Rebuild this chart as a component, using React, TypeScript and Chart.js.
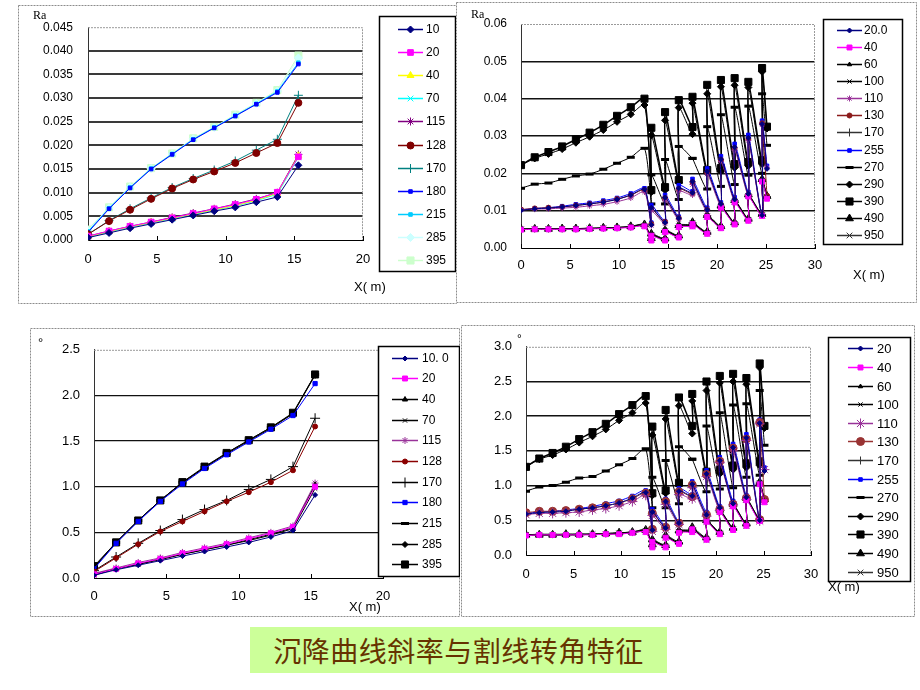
import React, { useEffect, useRef } from 'react';
import { Chart, registerables } from 'chart.js';
import { drawPoint } from 'chart.js/helpers';

Chart.register(...registerables);

// ---------------- Panel 1 (top-left): Ra vs X(m) ----------------
const p1X = [0, 1.53, 3.06, 4.59, 6.12, 7.65, 9.18, 10.71, 12.24, 13.77, 15.3];
const p1Labels = ['10', '20', '40', '70', '115', '128', '170', '180', '215', '285', '395'];
const p1_10 = [0.0005, 0.0015, 0.0025, 0.0034, 0.0043, 0.0052, 0.0061, 0.0069, 0.0080, 0.0091, 0.0158];
const p1_20 = [0.0008, 0.0019, 0.0029, 0.0038, 0.0047, 0.0056, 0.0066, 0.0075, 0.0086, 0.0101, 0.0176];
const p1_40 = [0.0007, 0.0018, 0.0028, 0.0037, 0.0046, 0.0055, 0.0064, 0.0073, 0.0084, 0.0099, 0.0178];
const p1_70 = [0.0006, 0.0017, 0.0027, 0.0036, 0.0045, 0.0054, 0.0063, 0.0072, 0.0083, 0.0097, 0.0175];
const p1_115 = [0.0008, 0.0019, 0.0029, 0.0038, 0.0048, 0.0057, 0.0066, 0.0076, 0.0087, 0.0100, 0.0181];
const p1_128 = [0.0012, 0.0040, 0.0064, 0.0087, 0.0109, 0.0128, 0.0145, 0.0163, 0.0184, 0.0205, 0.0290];
const p1_170 = [0.0012, 0.0041, 0.0066, 0.0089, 0.0111, 0.0130, 0.0148, 0.0167, 0.0190, 0.0213, 0.0306];
const p1_180 = [0.0016, 0.0066, 0.0110, 0.0150, 0.0181, 0.0212, 0.0237, 0.0262, 0.0287, 0.0312, 0.0372];
const p1_215 = [0.0018, 0.0067, 0.0111, 0.0151, 0.0182, 0.0213, 0.0238, 0.0263, 0.0288, 0.0314, 0.0375];
const p1_285 = [0.0020, 0.0068, 0.0112, 0.0151, 0.0182, 0.0214, 0.0238, 0.0264, 0.0289, 0.0315, 0.0385];
const p1_395 = [0.0022, 0.0069, 0.0113, 0.0152, 0.0183, 0.0215, 0.0239, 0.0265, 0.0290, 0.0317, 0.0390];
const p1YTicks = ['0.000', '0.005', '0.010', '0.015', '0.020', '0.025', '0.030', '0.035', '0.040', '0.045'];

// ---------------- Panel 2 (top-right): Ra vs X(m) ----------------
const p2X = [0, 1.4, 2.8, 4.2, 5.6, 7.0, 8.4, 9.8, 11.2, 12.6, 13.3, 13.3, 14.7, 14.7, 16.1, 16.1, 17.5, 17.5, 19.0, 19.0, 20.4, 20.4, 21.8, 21.8, 23.2, 23.2, 24.6, 24.6, 25.1];
const p2Labels = ['20.0', '40', '60', '100', '110', '130', '170', '255', '270', '290', '390', '490', '950'];
const p2_20 = [0.0101, 0.0105, 0.0107, 0.0110, 0.0114, 0.0118, 0.0123, 0.0130, 0.0142, 0.0157, 0.0062, 0.0108, 0.0068, 0.0135, 0.0080, 0.0160, 0.0148, 0.0178, 0.0102, 0.0205, 0.0118, 0.0238, 0.0130, 0.0270, 0.0145, 0.0295, 0.0088, 0.0332, 0.0212];
const p2_40 = [0.0049, 0.0050, 0.0050, 0.0050, 0.0050, 0.0051, 0.0052, 0.0053, 0.0055, 0.0058, 0.0020, 0.0033, 0.0020, 0.0043, 0.0028, 0.0056, 0.0058, 0.0064, 0.0038, 0.0083, 0.0053, 0.0108, 0.0063, 0.0122, 0.0073, 0.0138, 0.0086, 0.0178, 0.0132];
const p2_60 = [0.0050, 0.0051, 0.0051, 0.0051, 0.0051, 0.0052, 0.0053, 0.0054, 0.0056, 0.0060, 0.0022, 0.0035, 0.0022, 0.0045, 0.0030, 0.0058, 0.0060, 0.0066, 0.0040, 0.0085, 0.0055, 0.0110, 0.0065, 0.0125, 0.0075, 0.0140, 0.0088, 0.0180, 0.0135];
const p2_100 = [0.0050, 0.0051, 0.0051, 0.0051, 0.0052, 0.0052, 0.0053, 0.0055, 0.0057, 0.0061, 0.0024, 0.0036, 0.0023, 0.0046, 0.0031, 0.0059, 0.0061, 0.0067, 0.0041, 0.0086, 0.0056, 0.0111, 0.0066, 0.0126, 0.0076, 0.0141, 0.0089, 0.0182, 0.0137];
const p2_110 = [0.0102, 0.0104, 0.0105, 0.0107, 0.0109, 0.0113, 0.0117, 0.0124, 0.0134, 0.0150, 0.0060, 0.0100, 0.0065, 0.0128, 0.0076, 0.0152, 0.0142, 0.0170, 0.0098, 0.0198, 0.0112, 0.0232, 0.0125, 0.0262, 0.0140, 0.0288, 0.0086, 0.0330, 0.0215];
const p2_130 = [0.0103, 0.0106, 0.0108, 0.0110, 0.0114, 0.0118, 0.0123, 0.0131, 0.0141, 0.0155, 0.0064, 0.0105, 0.0070, 0.0134, 0.0080, 0.0158, 0.0146, 0.0176, 0.0102, 0.0203, 0.0116, 0.0236, 0.0128, 0.0268, 0.0143, 0.0292, 0.0089, 0.0334, 0.0140];
const p2_170 = [0.0051, 0.0052, 0.0052, 0.0052, 0.0052, 0.0053, 0.0054, 0.0055, 0.0057, 0.0062, 0.0025, 0.0037, 0.0024, 0.0047, 0.0032, 0.0060, 0.0062, 0.0068, 0.0042, 0.0087, 0.0057, 0.0112, 0.0067, 0.0127, 0.0077, 0.0142, 0.0090, 0.0183, 0.0138];
const p2_255 = [0.0102, 0.0106, 0.0108, 0.0112, 0.0117, 0.0121, 0.0127, 0.0134, 0.0146, 0.0160, 0.0068, 0.0115, 0.0072, 0.0142, 0.0084, 0.0168, 0.0152, 0.0185, 0.0108, 0.0213, 0.0122, 0.0246, 0.0136, 0.0279, 0.0150, 0.0303, 0.0090, 0.0341, 0.0220];
const p2_270 = [0.0160, 0.0171, 0.0174, 0.0184, 0.0193, 0.0198, 0.0211, 0.0227, 0.0243, 0.0267, 0.0118, 0.0196, 0.0118, 0.0237, 0.0130, 0.0272, 0.0240, 0.0240, 0.0158, 0.0325, 0.0165, 0.0357, 0.0170, 0.0377, 0.0195, 0.0380, 0.0200, 0.0413, 0.0275];
const p2_290 = [0.0222, 0.0240, 0.0252, 0.0265, 0.0282, 0.0298, 0.0316, 0.0338, 0.0358, 0.0383, 0.0150, 0.0302, 0.0155, 0.0342, 0.0175, 0.0376, 0.0305, 0.0388, 0.0200, 0.0413, 0.0205, 0.0432, 0.0215, 0.0436, 0.0220, 0.0430, 0.0225, 0.0472, 0.0320];
const p2_390 = [0.0222, 0.0243, 0.0257, 0.0272, 0.0291, 0.0309, 0.0330, 0.0354, 0.0377, 0.0400, 0.0155, 0.0322, 0.0163, 0.0364, 0.0182, 0.0396, 0.0324, 0.0405, 0.0209, 0.0437, 0.0214, 0.0450, 0.0225, 0.0455, 0.0230, 0.0445, 0.0235, 0.0482, 0.0325];
const p2_490 = [0.0051, 0.0051, 0.0051, 0.0052, 0.0052, 0.0053, 0.0054, 0.0055, 0.0058, 0.0063, 0.0026, 0.0038, 0.0025, 0.0048, 0.0033, 0.0061, 0.0063, 0.0069, 0.0043, 0.0088, 0.0058, 0.0113, 0.0068, 0.0128, 0.0078, 0.0143, 0.0091, 0.0184, 0.0139];
const p2_950 = [0.0050, 0.0050, 0.0051, 0.0051, 0.0051, 0.0052, 0.0053, 0.0054, 0.0056, 0.0059, 0.0023, 0.0034, 0.0021, 0.0044, 0.0029, 0.0057, 0.0059, 0.0065, 0.0039, 0.0084, 0.0054, 0.0109, 0.0064, 0.0124, 0.0074, 0.0139, 0.0087, 0.0179, 0.0134];
const p2YTicks = ['0.00', '0.01', '0.02', '0.03', '0.04', '0.05', '0.06'];

// ---------------- Panel 3 (bottom-left): angle (°) vs X(m) ----------------
const p3X = [0, 1.53, 3.06, 4.59, 6.12, 7.65, 9.18, 10.71, 12.24, 13.77, 15.3];
const p3Labels = ['10. 0', '20', '40', '70', '115', '128', '170', '180', '215', '285', '395'];
const p3_10 = [0.03, 0.09, 0.14, 0.19, 0.24, 0.29, 0.34, 0.39, 0.45, 0.52, 0.91];
const p3_20 = [0.04, 0.10, 0.16, 0.21, 0.27, 0.32, 0.37, 0.43, 0.49, 0.56, 1.00];
const p3_40 = [0.04, 0.10, 0.15, 0.21, 0.26, 0.31, 0.36, 0.42, 0.48, 0.55, 1.02];
const p3_70 = [0.03, 0.10, 0.15, 0.20, 0.26, 0.31, 0.36, 0.41, 0.47, 0.54, 0.98];
const p3_115 = [0.05, 0.11, 0.17, 0.22, 0.28, 0.33, 0.38, 0.44, 0.50, 0.57, 1.04];
const p3_128 = [0.07, 0.22, 0.37, 0.51, 0.62, 0.73, 0.84, 0.94, 1.05, 1.18, 1.66];
const p3_170 = [0.08, 0.23, 0.38, 0.52, 0.64, 0.75, 0.85, 0.97, 1.08, 1.22, 1.75];
const p3_180 = [0.10, 0.38, 0.62, 0.84, 1.03, 1.20, 1.35, 1.49, 1.63, 1.78, 2.13];
const p3_215 = [0.12, 0.39, 0.63, 0.85, 1.05, 1.21, 1.37, 1.51, 1.65, 1.80, 2.23];
const p3_285 = [0.11, 0.39, 0.63, 0.85, 1.04, 1.21, 1.36, 1.50, 1.64, 1.80, 2.22];
const p3_395 = [0.13, 0.39, 0.63, 0.85, 1.05, 1.22, 1.37, 1.51, 1.65, 1.81, 2.23];
const p3YTicks = ['0.0', '0.5', '1.0', '1.5', '2.0', '2.5'];

// ---------------- Panel 4 (bottom-right): angle (°) vs X(m) ----------------
const p4X = [0, 1.4, 2.8, 4.2, 5.6, 7.0, 8.4, 9.8, 11.2, 12.6, 13.3, 13.3, 14.7, 14.7, 16.1, 16.1, 17.5, 17.5, 19.0, 19.0, 20.4, 20.4, 21.8, 21.8, 23.2, 23.2, 24.6, 24.6, 25.1];
const p4Labels = ['20', '40', '60', '100', '110', '130', '170', '255', '270', '290', '390', '490', '950'];
const p4_20 = [0.59, 0.61, 0.62, 0.63, 0.66, 0.68, 0.71, 0.75, 0.82, 0.90, 0.36, 0.62, 0.39, 0.77, 0.46, 0.92, 0.85, 1.02, 0.58, 1.17, 0.68, 1.36, 0.74, 1.55, 0.83, 1.69, 0.50, 1.90, 1.21];
const p4_40 = [0.28, 0.29, 0.29, 0.29, 0.29, 0.29, 0.30, 0.30, 0.32, 0.33, 0.11, 0.19, 0.11, 0.25, 0.16, 0.32, 0.33, 0.37, 0.22, 0.48, 0.30, 0.62, 0.36, 0.70, 0.42, 0.79, 0.49, 1.02, 0.76];
const p4_60 = [0.29, 0.29, 0.29, 0.29, 0.29, 0.30, 0.30, 0.31, 0.32, 0.34, 0.13, 0.20, 0.13, 0.26, 0.17, 0.33, 0.34, 0.38, 0.23, 0.49, 0.32, 0.63, 0.37, 0.72, 0.43, 0.80, 0.50, 1.03, 0.77];
const p4_100 = [0.29, 0.29, 0.29, 0.29, 0.30, 0.30, 0.30, 0.32, 0.33, 0.35, 0.14, 0.21, 0.13, 0.26, 0.18, 0.34, 0.35, 0.38, 0.23, 0.49, 0.32, 0.64, 0.38, 0.72, 0.44, 0.81, 0.51, 1.04, 0.78];
const p4_110 = [0.58, 0.60, 0.60, 0.61, 0.62, 0.65, 0.67, 0.71, 0.77, 0.86, 0.34, 0.57, 0.37, 0.73, 0.44, 0.87, 0.81, 0.97, 0.56, 1.13, 0.64, 1.33, 0.72, 1.50, 0.80, 1.65, 0.49, 1.89, 1.23];
const p4_130 = [0.61, 0.63, 0.63, 0.64, 0.66, 0.68, 0.71, 0.75, 0.81, 0.89, 0.37, 0.60, 0.40, 0.77, 0.46, 0.91, 0.84, 1.01, 0.58, 1.16, 0.66, 1.35, 0.73, 1.54, 0.82, 1.67, 0.51, 1.91, 0.80];
const p4_170 = [0.29, 0.30, 0.30, 0.30, 0.30, 0.30, 0.31, 0.32, 0.33, 0.36, 0.14, 0.21, 0.14, 0.27, 0.18, 0.34, 0.36, 0.39, 0.24, 0.50, 0.33, 0.64, 0.38, 0.73, 0.44, 0.81, 0.52, 1.05, 0.79];
const p4_255 = [0.60, 0.62, 0.63, 0.65, 0.67, 0.70, 0.74, 0.78, 0.85, 0.93, 0.39, 0.66, 0.41, 0.81, 0.48, 0.96, 0.87, 1.06, 0.62, 1.22, 0.70, 1.41, 0.78, 1.60, 0.86, 1.74, 0.52, 1.95, 1.26];
const p4_270 = [0.92, 0.98, 1.00, 1.05, 1.11, 1.13, 1.21, 1.30, 1.39, 1.53, 0.68, 1.12, 0.68, 1.36, 0.74, 1.56, 1.38, 1.38, 0.91, 1.86, 0.95, 2.05, 0.97, 2.16, 1.12, 2.18, 1.15, 2.37, 1.58];
const p4_290 = [1.27, 1.38, 1.44, 1.52, 1.62, 1.71, 1.81, 1.94, 2.05, 2.19, 0.86, 1.73, 0.89, 1.96, 1.00, 2.15, 1.75, 2.22, 1.15, 2.37, 1.17, 2.48, 1.23, 2.50, 1.26, 2.46, 1.29, 2.70, 1.83];
const p4_390 = [1.27, 1.39, 1.47, 1.56, 1.67, 1.77, 1.89, 2.03, 2.16, 2.29, 0.89, 1.85, 0.93, 2.09, 1.04, 2.27, 1.86, 2.32, 1.20, 2.50, 1.23, 2.58, 1.29, 2.61, 1.32, 2.55, 1.35, 2.76, 1.86];
const p4_490 = [0.29, 0.29, 0.29, 0.30, 0.30, 0.30, 0.31, 0.32, 0.33, 0.36, 0.15, 0.22, 0.14, 0.28, 0.19, 0.35, 0.36, 0.40, 0.25, 0.50, 0.33, 0.65, 0.39, 0.73, 0.45, 0.82, 0.52, 1.05, 0.80];
const p4_950 = [0.29, 0.29, 0.29, 0.29, 0.29, 0.30, 0.30, 0.31, 0.32, 0.34, 0.13, 0.19, 0.12, 0.25, 0.17, 0.33, 0.34, 0.37, 0.22, 0.48, 0.31, 0.62, 0.37, 0.71, 0.42, 0.80, 0.50, 1.03, 0.77];
const p4YTicks = ['0.0', '0.5', '1.0', '1.5', '2.0', '2.5', '3.0'];

const xTicks20 = ['0', '5', '10', '15', '20'];
const xTicks30 = ['0', '5', '10', '15', '20', '25', '30'];
const titleText = '沉降曲线斜率与割线转角特征';

// ---------------- styles (separate from data) ----------------
type Sty = { c: string; p: string; r: number; bw?: number; lw?: number };
const p1Styles: Sty[] = [
  { c: '#000080', p: 'rectRot', r: 3.5 },
  { c: '#FF00FF', p: 'rect', r: 4 },
  { c: '#FFFF00', p: 'triangle', r: 4 },
  { c: '#00FFFF', p: 'crossRot', r: 4 },
  { c: '#800080', p: 'star', r: 4 },
  { c: '#800000', p: 'circle', r: 3.5 },
  { c: '#008080', p: 'cross', r: 4.5 },
  { c: '#0000FF', p: 'rect', r: 2.5 },
  { c: '#00CCFF', p: 'rect', r: 2.5 },
  { c: '#CCFFFF', p: 'rectRot', r: 4 },
  { c: '#CCFFCC', p: 'rect', r: 5 },
];
const p3Styles: Sty[] = [
  { c: '#000080', p: 'rectRot', r: 2.5 },
  { c: '#FF00FF', p: 'rect', r: 3.5 },
  { c: '#000000', p: 'triangle', r: 3 },
  { c: '#000000', p: 'crossRot', r: 3 },
  { c: '#993399', p: 'star', r: 3.5 },
  { c: '#8B0000', p: 'circle', r: 2.5 },
  { c: '#000000', p: 'cross', r: 5 },
  { c: '#0000FF', p: 'rect', r: 3 },
  { c: '#000000', p: 'line', r: 4, bw: 3 },
  { c: '#000000', p: 'rectRot', r: 3 },
  { c: '#000000', p: 'rect', r: 5 },
];
const p2Styles: Sty[] = [
  { c: '#000080', p: 'rectRot', r: 2.5 },
  { c: '#FF00FF', p: 'rect', r: 3.5 },
  { c: '#000000', p: 'triangle', r: 2.5 },
  { c: '#000000', p: 'crossRot', r: 3 },
  { c: '#993399', p: 'star', r: 3 },
  { c: '#8B1A1A', p: 'circle', r: 2.5 },
  { c: '#333333', p: 'cross', r: 4 },
  { c: '#0000FF', p: 'rect', r: 2.5 },
  { c: '#000000', p: 'line', r: 4, bw: 3 },
  { c: '#000000', p: 'rectRot', r: 3.5 },
  { c: '#000000', p: 'rect', r: 5, lw: 1.5 },
  { c: '#000000', p: 'triangle', r: 4.5 },
  { c: '#333333', p: 'crossRot', r: 4 },
];
const p4Styles: Sty[] = [
  { c: '#000080', p: 'rectRot', r: 2.5 },
  { c: '#FF00FF', p: 'rect', r: 3.5 },
  { c: '#000000', p: 'triangle', r: 2.5 },
  { c: '#000000', p: 'crossRot', r: 3 },
  { c: '#993399', p: 'star', r: 5 },
  { c: '#993333', p: 'circle', r: 4 },
  { c: '#333333', p: 'cross', r: 4 },
  { c: '#0000FF', p: 'rect', r: 2.5 },
  { c: '#000000', p: 'line', r: 4, bw: 3 },
  { c: '#000000', p: 'rectRot', r: 3.5 },
  { c: '#000000', p: 'rect', r: 5, lw: 1.5 },
  { c: '#000000', p: 'triangle', r: 4.5 },
  { c: '#333333', p: 'crossRot', r: 4 },
];

type PanelCfg = {
  left: number; top: number; w: number; h: number;
  area: { l: number; t: number; r: number; b: number };
  xMax: number; xTickLabels: string[]; yMax: number; yStep: number; yTickLabels: string[];
  xs: number[]; labels: string[]; values: number[][]; styles: Sty[];
  tension: number; yPad: number; xPad: number; yFont: number; xFont: number;
  gridColor: string; gridWidth: number;
  texts: { t: string; x: number; y: number; font: string }[];
  legend: { x: number; y: number; w: number; h: number; lx1: number; lx2: number; tx: number; y0: number; step: number; font: number; bw: number };
};

const SANS = '"Liberation Sans", Arial, sans-serif';

const panels: PanelCfg[] = [
  {
    left: 18, top: 5, w: 439, h: 299,
    area: { l: 70, t: 20, r: 345, b: 235 },
    xMax: 20, xTickLabels: xTicks20, yMax: 0.045, yStep: 0.005, yTickLabels: p1YTicks,
    xs: p1X, labels: p1Labels,
    values: [p1_10, p1_20, p1_40, p1_70, p1_115, p1_128, p1_170, p1_180, p1_215, p1_285, p1_395],
    styles: p1Styles, tension: 0, yPad: 15, xPad: 12, yFont: 12, xFont: 13,
    gridColor: '#3a3a3a', gridWidth: 2,
    texts: [
      { t: 'Ra', x: 15, y: 11, font: '12px "Liberation Serif", serif' },
      { t: 'X( m)', x: 336, y: 282, font: '13px ' + SANS },
    ],
    legend: { x: 361, y: 11, w: 77, h: 256, lx1: 380, lx2: 405, tx: 408, y0: 24, step: 23.1, font: 12, bw: 1.5 },
  },
  {
    left: 456, top: 2, w: 461, h: 301,
    area: { l: 65, t: 22, r: 359, b: 246 },
    xMax: 30, xTickLabels: xTicks30, yMax: 0.06, yStep: 0.01, yTickLabels: p2YTicks,
    xs: p2X, labels: p2Labels,
    values: [p2_20, p2_40, p2_60, p2_100, p2_110, p2_130, p2_170, p2_255, p2_270, p2_290, p2_390, p2_490, p2_950],
    styles: p2Styles, tension: 0.25, yPad: 14, xPad: 10, yFont: 12, xFont: 13,
    gridColor: '#111111', gridWidth: 1.5,
    texts: [
      { t: 'Ra', x: 15, y: 13, font: '12px "Liberation Serif", serif' },
      { t: 'X( m)', x: 397, y: 273, font: '13px ' + SANS },
    ],
    legend: { x: 367, y: 17, w: 80, h: 226, lx1: 381, lx2: 406, tx: 408, y0: 28, step: 17.08, font: 12, bw: 1.5 },
  },
  {
    left: 30, top: 328, w: 430, h: 289,
    area: { l: 64, t: 19, r: 353, b: 250 },
    xMax: 20, xTickLabels: xTicks20, yMax: 2.5, yStep: 0.5, yTickLabels: p3YTicks,
    xs: p3X, labels: p3Labels,
    values: [p3_10, p3_20, p3_40, p3_70, p3_115, p3_128, p3_170, p3_180, p3_215, p3_285, p3_395],
    styles: p3Styles, tension: 0, yPad: 14, xPad: 11, yFont: 13, xFont: 13,
    gridColor: '#111111', gridWidth: 1.2,
    texts: [
      { t: '°', x: 8, y: 15, font: '13px ' + SANS },
      { t: 'X( m)', x: 319, y: 279, font: '13px ' + SANS },
    ],
    legend: { x: 348, y: 18, w: 82, h: 231, lx1: 362, lx2: 388, tx: 392, y0: 29.7, step: 20.67, font: 12, bw: 1.5 },
  },
  {
    left: 461, top: 325, w: 454, h: 292,
    area: { l: 65, t: 20, r: 350, b: 230 },
    xMax: 30, xTickLabels: xTicks30, yMax: 3.0, yStep: 0.5, yTickLabels: p4YTicks,
    xs: p4X, labels: p4Labels,
    values: [p4_20, p4_40, p4_60, p4_100, p4_110, p4_130, p4_170, p4_255, p4_270, p4_290, p4_390, p4_490, p4_950],
    styles: p4Styles, tension: 0.25, yPad: 14, xPad: 12, yFont: 13, xFont: 13,
    gridColor: '#111111', gridWidth: 1.5,
    texts: [
      { t: '°', x: 56, y: 15, font: '12px ' + SANS },
      { t: 'X( m)', x: 367, y: 262, font: '13px ' + SANS },
    ],
    legend: { x: 367, y: 12, w: 83, h: 245, lx1: 387, lx2: 412, tx: 416, y0: 23.3, step: 18.6, font: 13, bw: 1.5 },
  },
];

function buildConfig(cfg: PanelCfg): any {
  const datasets = cfg.values.map((vals, i) => {
    const s = cfg.styles[i];
    return {
      label: cfg.labels[i],
      data: vals.map((v, j) => ({ x: cfg.xs[j], y: v })),
      borderColor: s.c,
      backgroundColor: s.c,
      pointBackgroundColor: s.c,
      pointBorderColor: s.c,
      pointStyle: s.p,
      pointRadius: s.r,
      pointBorderWidth: s.bw ?? 1,
      borderWidth: s.lw ?? 1,
      tension: cfg.tension,
      fill: false,
    };
  });

  const panelPlugin = {
    id: 'panelDeco',
    beforeDraw(chart: any) {
      const ctx = chart.ctx;
      ctx.save();
      ctx.fillStyle = '#ffffff';
      ctx.fillRect(0, 0, chart.width, chart.height);
      ctx.strokeStyle = '#8c8c8c';
      ctx.lineWidth = 1;
      ctx.setLineDash([2, 1]);
      ctx.strokeRect(0.5, 0.5, chart.width - 1, chart.height - 1);
      ctx.restore();
    },
    beforeDatasetsDraw(chart: any) {
      const ctx = chart.ctx;
      const a = chart.chartArea;
      ctx.save();
      ctx.strokeStyle = '#9a9a9a';
      ctx.lineWidth = 1;
      ctx.setLineDash([2, 1]);
      ctx.beginPath();
      ctx.moveTo(a.left, a.top + 0.5);
      ctx.lineTo(a.right - 0.5, a.top + 0.5);
      ctx.lineTo(a.right - 0.5, a.bottom);
      ctx.stroke();
      ctx.setLineDash([]);
      // inner tick marks on the x axis
      const xs = chart.scales.x;
      ctx.strokeStyle = '#000';
      xs.ticks.forEach((t: any) => {
        const px = Math.round(xs.getPixelForValue(t.value)) + 0.5;
        ctx.beginPath();
        ctx.moveTo(px, a.bottom);
        ctx.lineTo(px, a.bottom - 4);
        ctx.stroke();
      });
      ctx.restore();
    },
    afterDraw(chart: any) {
      const ctx = chart.ctx;
      ctx.save();
      // axis titles
      ctx.fillStyle = '#000';
      ctx.textBaseline = 'middle';
      ctx.textAlign = 'left';
      cfg.texts.forEach((t) => {
        ctx.font = t.font;
        ctx.fillText(t.t, t.x, t.y);
      });
      // legend
      const lg = cfg.legend;
      ctx.fillStyle = '#ffffff';
      ctx.fillRect(lg.x, lg.y, lg.w, lg.h);
      ctx.strokeStyle = '#000';
      ctx.lineWidth = lg.bw;
      ctx.strokeRect(lg.x + 0.5, lg.y + 0.5, lg.w - 1, lg.h - 1);
      chart.data.datasets.forEach((ds: any, i: number) => {
        const y = Math.round(lg.y0 + i * lg.step) + 0.5;
        ctx.strokeStyle = ds.borderColor;
        ctx.lineWidth = 1.5;
        ctx.beginPath();
        ctx.moveTo(lg.lx1, y);
        ctx.lineTo(lg.lx2, y);
        ctx.stroke();
        ctx.fillStyle = ds.pointBackgroundColor;
        ctx.strokeStyle = ds.pointBorderColor;
        ctx.lineWidth = ds.pointBorderWidth;
        drawPoint(ctx, { pointStyle: ds.pointStyle, radius: ds.pointRadius, rotation: 0, borderWidth: ds.pointBorderWidth }, (lg.lx1 + lg.lx2) / 2, y);
        ctx.fillStyle = '#000';
        ctx.font = lg.font + 'px ' + SANS;
        ctx.textAlign = 'left';
        ctx.textBaseline = 'middle';
        ctx.fillText(ds.label, lg.tx, y + 0.5);
      });
      ctx.restore();
    },
  };

  const yMax = cfg.yMax;
  return {
    type: 'line',
    data: { datasets },
    options: {
      responsive: false,
      maintainAspectRatio: false,
      animation: false,
      devicePixelRatio: 1,
      layout: { padding: { left: 0, top: cfg.area.t, right: cfg.w - cfg.area.r, bottom: 0 } },
      plugins: { legend: { display: false }, tooltip: { enabled: false }, title: { display: false } },
      elements: { line: { cubicInterpolationMode: 'default' } },
      scales: {
        x: {
          type: 'linear',
          min: 0,
          max: cfg.xMax,
          ticks: {
            stepSize: 5,
            padding: cfg.xPad,
            color: '#000',
            maxRotation: 0,
            font: { family: SANS, size: cfg.xFont },
            callback: (v: number) => cfg.xTickLabels[Math.round(v / 5)] ?? '',
          },
          grid: { display: false, drawTicks: false },
          border: { display: true, color: '#000', width: 1 },
          afterFit: (s: any) => { s.height = cfg.h - cfg.area.b; },
        },
        y: {
          type: 'linear',
          min: 0,
          max: yMax,
          ticks: {
            stepSize: cfg.yStep,
            padding: cfg.yPad,
            color: '#000',
            font: { family: SANS, size: cfg.yFont },
            callback: (v: number) => cfg.yTickLabels[Math.round(v / cfg.yStep)] ?? '',
          },
          grid: {
            drawTicks: false,
            lineWidth: cfg.gridWidth,
            color: (c: any) => {
              const v = c.tick ? c.tick.value : 0;
              if (Math.abs(v) < 1e-9) return 'rgba(0,0,0,0)';
              if (Math.abs(v - yMax) < 1e-9) return 'rgba(0,0,0,0)';
              return cfg.gridColor;
            },
          },
          border: { display: true, color: '#333', width: 1 },
          afterFit: (s: any) => { s.width = cfg.area.l; },
        },
      },
    },
    plugins: [panelPlugin],
  };
}

function Panel({ cfg }: { cfg: PanelCfg }) {
  const ref = useRef<HTMLCanvasElement | null>(null);
  useEffect(() => {
    if (!ref.current) return;
    const chart = new Chart(ref.current, buildConfig(cfg));
    return () => chart.destroy();
  }, [cfg]);
  return (
    <canvas
      ref={ref}
      width={cfg.w}
      height={cfg.h}
      style={{ position: 'absolute', left: cfg.left, top: cfg.top, width: cfg.w, height: cfg.h, display: 'block' }}
    />
  );
}

export default function App() {
  return (
    <div style={{ position: 'absolute', left: 0, top: 0, width: 920, height: 690, background: '#ffffff', overflow: 'hidden' }}>
      {panels.map((p, i) => (
        <Panel key={i} cfg={p} />
      ))}
      <div
        style={{
          position: 'absolute', left: 250, top: 627, width: 417, height: 46,
          background: '#CCFF99', color: '#663300',
          fontFamily: '"Noto Sans CJK SC", sans-serif', fontSize: 28, lineHeight: '46px',
          textAlign: 'center', letterSpacing: 0.5, whiteSpace: 'nowrap',
        }}
      >
        {titleText}
      </div>
    </div>
  );
}
